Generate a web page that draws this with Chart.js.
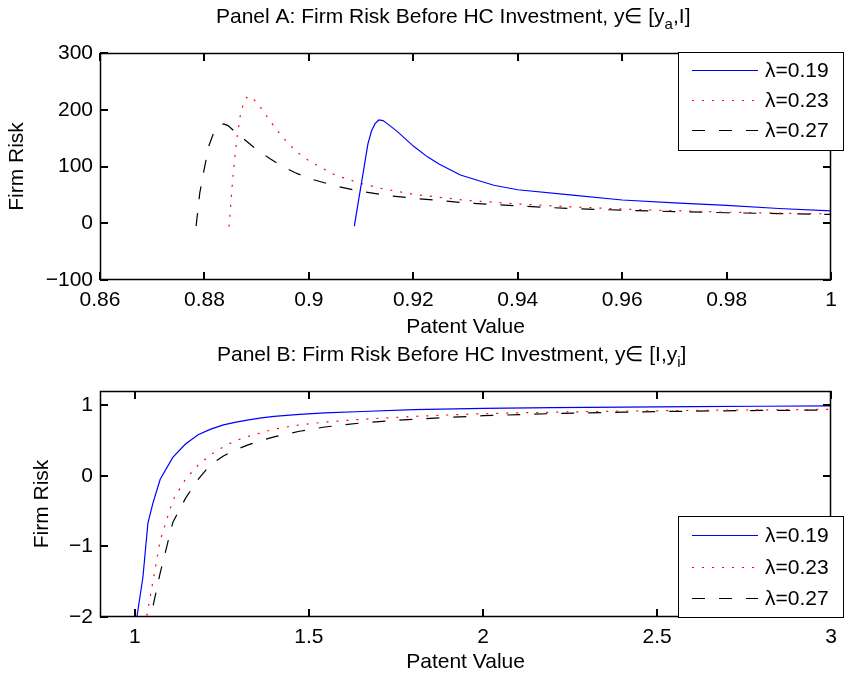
<!DOCTYPE html>
<html lang="en">
<head>
<meta charset="UTF-8">
<title>Firm Risk Before HC Investment</title>
<script src="https://cdn.jsdelivr.net/npm/chart.js"></script>
<style>
  html, body { margin: 0; padding: 0; background: #fff; }
  #wrap { position: relative; width: 845px; height: 679px; }
  #wrap canvas { position: absolute; left: 0; }
</style>
</head>
<body>
<div id="wrap">
  <canvas id="panelA" width="845" height="340" style="top:0"></canvas>
  <canvas id="panelB" width="845" height="339" style="top:340px"></canvas>
</div>
<script>
const FONT = "'Liberation Sans', Arial, Helvetica, sans-serif";
const FONT_SIZE = 21;

// series labels and line styles (blue solid, red dotted, black dashed)
const lambdaLabels = ['λ=0.19', 'λ=0.23', 'λ=0.27'];
const lineColors = ['#0000ff', '#ff0000', '#000000'];
const lineDashes = [[], [2, 8], [13, 14]];

// Panel A: y in [y_a, I]
const aX019 = [0.9087, 0.9095, 0.9105, 0.9113, 0.9120, 0.9127, 0.9134, 0.9142, 0.9155, 0.9170, 0.9200, 0.9227, 0.9250, 0.9290, 0.9354, 0.9400, 0.9500, 0.9600, 0.9700, 0.9800, 0.9900, 1.0000];
const aY019 = [-5, 40, 95, 140, 163, 176, 182, 181, 172, 161, 136, 117, 104, 85, 67, 59, 50, 41, 36, 31.5, 26, 21.7];
const aX023 = [0.8847, 0.8853, 0.8858, 0.8863, 0.8869, 0.8876, 0.8883, 0.8890, 0.8900, 0.8910, 0.8925, 0.8944, 0.8960, 0.8978, 0.9000, 0.9050, 0.9100, 0.9140, 0.9200, 0.9300, 0.9400, 0.9500, 0.9600, 0.9700, 0.9800, 0.9900, 1.0000];
const aY023 = [-6, 65, 115, 155, 192, 215, 224, 222, 213, 201, 181, 158, 141, 125, 110, 85, 70, 61, 51, 40.5, 34, 29, 25, 22, 19.5, 17.8, 16.4];
const aX027 = [0.8784, 0.8791, 0.8799, 0.8809, 0.8820, 0.8830, 0.8837, 0.8845, 0.8860, 0.8880, 0.8900, 0.8925, 0.8950, 0.8974, 0.9000, 0.9050, 0.9100, 0.9160, 0.9200, 0.9300, 0.9400, 0.9500, 0.9600, 0.9700, 0.9800, 0.9900, 1.0000];
const aY027 = [-5, 53, 93, 138, 165, 173, 175, 172, 160, 145, 130, 114, 100, 89, 79, 66, 56, 48, 44, 36, 30.5, 26, 23, 20.6, 18.5, 17, 15.6];
const aXTicks = [0.86, 0.88, 0.90, 0.92, 0.94, 0.96, 0.98, 1.00];
const aYTicks = [-100, 0, 100, 200, 300];

// Panel B: y in [I, y_i]
const bX019 = [1.0, 1.0234, 1.0376, 1.0518, 1.0729, 1.1091, 1.1455, 1.1818, 1.2182, 1.2545, 1.2909, 1.3273, 1.3636, 1.4, 1.4727, 1.5455, 1.6545, 1.8, 2.0, 2.2, 2.4, 2.6, 2.8, 3.0];
const bY019 = [-2.2, -1.43, -0.67, -0.39, -0.05, 0.26, 0.45, 0.58, 0.66, 0.72, 0.76, 0.79, 0.82, 0.84, 0.87, 0.89, 0.91, 0.935, 0.955, 0.965, 0.972, 0.978, 0.984, 0.99];
const bX023 = [1.0, 1.0364, 1.0727, 1.1091, 1.1455, 1.1818, 1.2182, 1.2545, 1.2909, 1.3273, 1.3636, 1.4, 1.4727, 1.5455, 1.6545, 1.8, 2.0, 2.2, 2.4, 2.6, 2.8, 3.0];
const bY023 = [-3.1, -1.93, -0.92, -0.35, -0.05, 0.15, 0.30, 0.41, 0.50, 0.56, 0.61, 0.66, 0.72, 0.76, 0.80, 0.84, 0.88, 0.90, 0.915, 0.925, 0.933, 0.94];
const bX027 = [1.0364, 1.0727, 1.1091, 1.1455, 1.1818, 1.2182, 1.2545, 1.2909, 1.3273, 1.3636, 1.4, 1.4727, 1.5455, 1.6545, 1.8, 2.0, 2.2, 2.4, 2.6, 2.8, 3.0];
const bY027 = [-2.21, -1.38, -0.66, -0.32, -0.05, 0.16, 0.28, 0.37, 0.44, 0.50, 0.55, 0.63, 0.69, 0.75, 0.80, 0.85, 0.88, 0.90, 0.915, 0.925, 0.93];
const bXTicks = [1, 1.5, 2, 2.5, 3];
const bYTicks = [-2, -1, 0, 1];

const fmt = v => (v < 0 ? '\u2212' + Math.abs(v) : String(v));

function series(xs, ys, i) {
    return {
        label: lambdaLabels[i],
        data: xs.map((x, k) => ({ x: x, y: ys[k] })),
        borderColor: lineColors[i],
        borderDash: lineDashes[i],
        borderWidth: 1.2,
        borderCapStyle: 'butt',
        pointRadius: 0,
        tension: 0,
        fill: false
    };
}

// box, inward ticks on all four sides, title with subscript, boxed legend
const matlabAxes = {
    id: 'matlabAxes',
    afterDraw(chart, args, opts) {
        const { ctx, chartArea: a } = chart;
        const xs = chart.scales.x, ys = chart.scales.y;
        const L = Math.round(a.left), R = Math.round(a.right);
        const T = Math.round(a.top), B = Math.round(a.bottom);
        const tk = 8;
        ctx.save();
        ctx.setLineDash([]);
        ctx.fillStyle = '#000';
        // tick marks as small filled bars pointing into the plot
        for (const v of xs.options.tickValues) {
            const px = Math.round(xs.getPixelForValue(v));
            ctx.fillRect(px - 1, B - tk, 2, tk);
            ctx.fillRect(px - 1, T, 2, tk);
        }
        for (const v of ys.options.tickValues) {
            const py = Math.round(ys.getPixelForValue(v));
            ctx.fillRect(L, py - 1, tk, 2);
            ctx.fillRect(R - tk, py - 1, tk, 2);
        }
        ctx.strokeStyle = '#000';
        ctx.lineWidth = 1.5;
        ctx.strokeRect(L + 0.5, T + 0.5, R - L - 1, B - T - 1);

        // title
        const [head, sub, tail] = opts.title;
        let tx = opts.titleX;
        const ty = opts.titleY;
        ctx.textAlign = 'left';
        ctx.textBaseline = 'alphabetic';
        ctx.font = FONT_SIZE + 'px ' + FONT;
        ctx.fillText(head, tx, ty);
        tx += ctx.measureText(head).width;
        ctx.font = '15px ' + FONT;
        ctx.fillText(sub, tx, ty + 6);
        tx += ctx.measureText(sub).width;
        ctx.font = FONT_SIZE + 'px ' + FONT;
        ctx.fillText(tail, tx, ty);

        // legend
        const lg = opts.legend;
        ctx.fillStyle = '#fff';
        ctx.fillRect(lg.left, lg.top, lg.right - lg.left, lg.bottom - lg.top);
        ctx.lineWidth = 1;
        ctx.strokeRect(lg.left + 0.5, lg.top + 0.5, lg.right - lg.left - 1, lg.bottom - lg.top - 1);
        chart.data.datasets.forEach((ds, i) => {
            const y = lg.rows[i];
            ctx.strokeStyle = ds.borderColor;
            ctx.lineWidth = ds.borderWidth;
            ctx.setLineDash(ds.borderDash);
            ctx.beginPath();
            ctx.moveTo(lg.lineFrom, y + 0.5);
            ctx.lineTo(lg.lineTo, y + 0.5);
            ctx.stroke();
            ctx.setLineDash([]);
            ctx.fillStyle = '#000';
            ctx.textBaseline = 'middle';
            ctx.fillText(ds.label, lg.textX, y + 1);
        });
        ctx.restore();
    }
};

function makeChart(id, datasets, cfg) {
    const tickFont = { family: FONT, size: FONT_SIZE };
    return new Chart(document.getElementById(id), {
        type: 'line',
        data: { datasets: datasets },
        options: {
            responsive: false,
            animation: false,
            devicePixelRatio: 1,
            layout: { padding: { top: cfg.top, right: 8, bottom: 0, left: 0 } },
            plugins: {
                legend: { display: false },
                tooltip: { enabled: false },
                matlabAxes: cfg.decor
            },
            scales: {
                x: {
                    type: 'linear',
                    min: cfg.xMin, max: cfg.xMax,
                    tickValues: cfg.xTicks,
                    grid: { display: false, drawTicks: false },
                    border: { display: false },
                    afterBuildTicks: s => { s.ticks = cfg.xTicks.map(v => ({ value: v })); },
                    afterFit: s => { s.height = cfg.xHeight; },
                    ticks: { color: '#000', font: tickFont, padding: 8, maxRotation: 0, autoSkip: false, callback: v => fmt(v) },
                    title: { display: true, text: 'Patent Value', color: '#000', font: tickFont, padding: { top: 0, bottom: cfg.xTitlePad } }
                },
                y: {
                    type: 'linear',
                    min: cfg.yMin, max: cfg.yMax,
                    tickValues: cfg.yTicks,
                    grid: { display: false, drawTicks: false },
                    border: { display: false },
                    afterBuildTicks: s => { s.ticks = cfg.yTicks.map(v => ({ value: v })); },
                    afterFit: s => { s.width = 100; },
                    ticks: { color: '#000', font: tickFont, padding: 7, autoSkip: false, callback: v => fmt(v) },
                    title: { display: true, text: 'Firm Risk', color: '#000', font: tickFont, padding: { top: cfg.yTitlePad, bottom: 0 } }
                }
            }
        },
        plugins: [matlabAxes]
    });
}

makeChart('panelA', [
    series(aX019, aY019, 0),
    series(aX023, aY023, 1),
    series(aX027, aY027, 2)
], {
    top: 53, xHeight: 60, xTitlePad: 0, yTitlePad: 5,
    xMin: 0.86, xMax: 1, yMin: -100, yMax: 300,
    xTicks: aXTicks, yTicks: aYTicks,
    decor: {
        title: ['Panel A: Firm Risk Before HC Investment, y\u2208 [y', 'a', ',I]'],
        titleX: 216, titleY: 23,
        legend: { left: 678, top: 52, right: 844, bottom: 151, rows: [70, 100, 130], lineFrom: 692, lineTo: 758, textX: 765 }
    }
});

makeChart('panelB', [
    series(bX019, bY019, 0),
    series(bX023, bY023, 1),
    series(bX027, bY027, 2)
], {
    top: 51, xHeight: 62, xTitlePad: 4, yTitlePad: 30,
    xMin: 0.9, xMax: 3, yMin: -2, yMax: 1.2,
    xTicks: bXTicks, yTicks: bYTicks,
    decor: {
        title: ['Panel B: Firm Risk Before HC Investment, y\u2208 [I,y', 'i', ']'],
        titleX: 217, titleY: 21,
        legend: { left: 678, top: 176, right: 844, bottom: 278, rows: [195, 227, 258], lineFrom: 692, lineTo: 758, textX: 765 }
    }
});
</script>
</body>
</html>
